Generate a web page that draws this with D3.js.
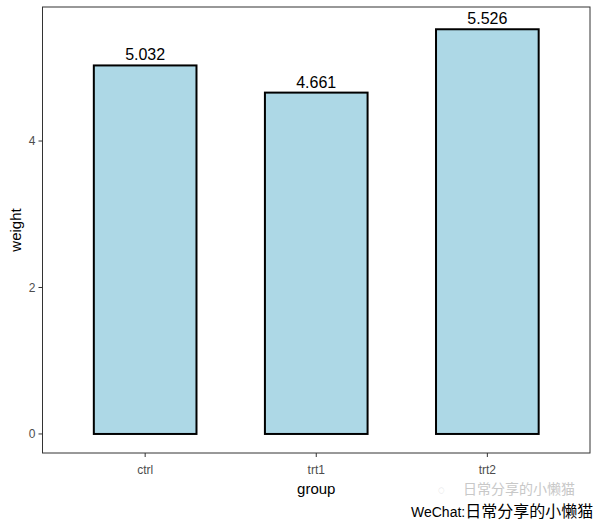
<!DOCTYPE html>
<html>
<head>
<meta charset="utf-8">
<script src="https://cdn.jsdelivr.net/npm/d3@7"></script>
<style>
  body { margin: 0; background: #fff; }
  text { font-family: "Liberation Sans", Arial, sans-serif; }
</style>
</head>
<body>
<script>
// data
const groups = ["ctrl", "trt1", "trt2"];
const weights = [5.032, 4.661, 5.526];
const yTicks = [0, 2, 4];

const W = 598, H = 526;
const margin = { left: 42.5, top: 7, right: 8, bottom: 73 };
const width = W - margin.left - margin.right;
const height = H - margin.top - margin.bottom;

const svg = d3.select('body').append('svg')
    .attr('width', W)
    .attr('height', H);

const g = svg.append('g')
    .attr('transform', `translate(${margin.left}, ${margin.top})`);

// scales (ggplot-like expansion)
const y = d3.scaleLinear()
    .domain([-0.26, 5.83])
    .range([height, 0]);

// discrete axis: 3 groups, 0.6 expansion each side
const x = d3.scaleLinear()
    .domain([0.4, 3.6])
    .range([0, width]);
const center = d => x(groups.indexOf(d) + 1);
const barW = x(1.3) - x(0.7);

// bars
g.selectAll('rect.bar')
    .data(groups)
    .enter()
    .append('rect')
    .attr('class', 'bar')
    .attr('x', d => center(d) - barW / 2)
    .attr('y', (d, i) => y(weights[i]))
    .attr('width', barW)
    .attr('height', (d, i) => y(0) - y(weights[i]))
    .attr('fill', '#ADD8E6')
    .attr('stroke', '#000')
    .attr('stroke-width', 2);

// value labels
g.selectAll('text.lab')
    .data(groups)
    .enter()
    .append('text')
    .attr('x', d => center(d))
    .attr('y', (d, i) => y(weights[i]) - 5)
    .attr('text-anchor', 'middle')
    .style('font-size', '16px')
    .style('fill', '#000')
    .text((d, i) => weights[i].toFixed(3));

// panel border
g.append('rect')
    .attr('x', 0).attr('y', 0)
    .attr('width', width).attr('height', height)
    .attr('fill', 'none')
    .attr('stroke', '#333')
    .attr('stroke-width', 1);

// y axis
const yAxis = g.append('g');
yAxis.selectAll('line')
    .data(yTicks).enter().append('line')
    .attr('x1', -4).attr('x2', 0)
    .attr('y1', d => y(d)).attr('y2', d => y(d))
    .attr('stroke', '#333');
yAxis.selectAll('text')
    .data(yTicks).enter().append('text')
    .attr('x', -7)
    .attr('y', d => y(d))
    .attr('dy', '0.35em')
    .attr('text-anchor', 'end')
    .style('font-size', '12px')
    .style('fill', '#4D4D4D')
    .text(d => d);

// x axis
const xAxis = g.append('g').attr('transform', `translate(0, ${height})`);
xAxis.selectAll('line')
    .data(groups).enter().append('line')
    .attr('x1', d => center(d)).attr('x2', d => center(d))
    .attr('y1', 0).attr('y2', 4)
    .attr('stroke', '#333');
xAxis.selectAll('text')
    .data(groups).enter().append('text')
    .attr('x', d => center(d))
    .attr('y', 21)
    .attr('text-anchor', 'middle')
    .style('font-size', '12px')
    .style('fill', '#4D4D4D')
    .text(d => d);

// axis titles
svg.append('text')
    .attr('x', margin.left + width / 2)
    .attr('y', 494)
    .attr('text-anchor', 'middle')
    .style('font-size', '15px')
    .text('group');

svg.append('text')
    .attr('transform', `translate(21, ${margin.top + height / 2}) rotate(-90)`)
    .attr('text-anchor', 'middle')
    .style('font-size', '15px')
    .text('weight');

// watermarks
svg.append('text')
    .attr('x', 438)
    .attr('y', 494)
    .style('font-size', '12px')
    .style('fill', '#d0d0d0')
    .text('◌');
svg.append('text')
    .attr('x', 463)
    .attr('y', 494)
    .style('font-family', '"Noto Sans CJK SC", sans-serif')
    .style('font-size', '14px')
    .style('fill', '#c8c8c8')
    .text('日常分享的小懒猫');

svg.append('text')
    .attr('x', 411)
    .attr('y', 517)
    .style('font-size', '14px')
    .style('fill', '#000')
    .text('WeChat:')
    .append('tspan')
    .style('font-family', '"Noto Sans CJK SC", sans-serif')
    .style('font-size', '16px')
    .text('日常分享的小懒猫');
</script>
</body>
</html>
